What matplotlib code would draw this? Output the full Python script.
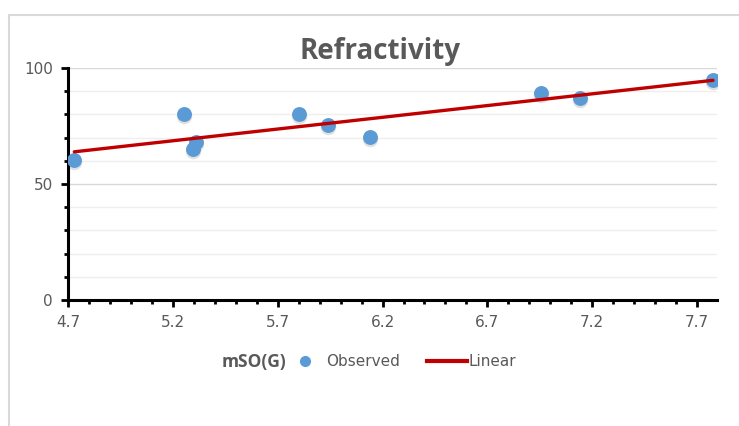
import matplotlib
matplotlib.use("Agg")
import matplotlib.pyplot as plt
import numpy as np
from matplotlib.patches import Rectangle
from matplotlib.lines import Line2D
from matplotlib.ticker import MultipleLocator

plt.rcParams['font.family'] = ['Liberation Sans Narrow', 'DejaVu Sans']

x_obs = [4.73, 5.253, 5.296, 5.31, 5.80, 5.94, 6.14, 6.956, 7.14, 7.776]
y_obs = [60.3, 80.2, 65.1, 68.1, 80.2, 75.4, 70.3, 89.2, 87.1, 94.8]
x_ticks = [4.7, 5.2, 5.7, 6.2, 6.7, 7.2, 7.7]
y_ticks = [0, 50, 100]

gray = '#595959'
fig = plt.figure(figsize=(7.39, 4.26), dpi=100)
fig.patches.append(Rectangle((9/739, -0.1), 1.0, 1 - 15/426 + 0.1, transform=fig.transFigure,
                             fill=False, edgecolor='#d9d9d9', linewidth=1.5))
ax = fig.add_axes([68/739, 1 - 300/426, (717 - 68)/739, (300 - 68)/426])

ax.set_xlim(4.7, 7.795)
ax.set_ylim(0, 100)
ax.set_xticks(x_ticks)
ax.set_xticklabels([str(v) for v in x_ticks])
ax.set_yticks(y_ticks)
ax.xaxis.set_minor_locator(MultipleLocator(0.1))
ax.yaxis.set_minor_locator(MultipleLocator(10))
ax.grid(True, which='major', axis='y', color='#d9d9d9', linewidth=1.0)
ax.grid(True, which='minor', axis='y', color='#efefef', linewidth=1.0)
ax.set_axisbelow(True)
for s in ['top', 'right']:
    ax.spines[s].set_visible(False)
for s in ['left', 'bottom']:
    ax.spines[s].set_linewidth(2.2)
    ax.spines[s].set_color('black')
ax.tick_params(which='major', length=5, width=2, color='black', labelcolor=gray, labelsize=11, pad=6)
ax.tick_params(which='minor', length=3, width=2, color='black')

ax.scatter(x_obs, [v - 0.9 for v in y_obs], s=125, color='#000000', alpha=0.12, zorder=2, linewidths=0)
ax.scatter(x_obs, y_obs, s=115, color='#5b9bd5', zorder=3, linewidths=0)

coef = np.polyfit(x_obs, y_obs, 1)
xl = np.array([min(x_obs), max(x_obs)])
ax.plot(xl, np.polyval(coef, xl), color='#c00000', linewidth=2.4, zorder=4, solid_capstyle='round')

fig.text(380/739, 1 - 59/426, 'Refractivity', fontsize=20, fontweight='bold', color=gray,
         ha='center', va='baseline', family=['Open Sans', 'DejaVu Sans'])

fig.text(222/739, 1 - 362/426, 'mSO(G)', fontsize=12.5, fontweight='bold', color=gray,
         va='center', ha='left', family=['Open Sans', 'DejaVu Sans'])
h1 = Line2D([], [], marker='o', linestyle='none', color='#5b9bd5', markersize=7)
leg1 = fig.legend([h1], ['Observed'], loc='center left', bbox_to_anchor=(296/739, 1 - 362/426),
                  frameon=False, fontsize=11, handletextpad=0.8, handlelength=1.2,
                  borderpad=0, borderaxespad=0)
for t in leg1.get_texts():
    t.set_color(gray)
h2 = Line2D([], [], color='#c00000', linewidth=3)
leg2 = fig.legend([h2], ['Linear'], loc='center left', bbox_to_anchor=(427/739, 1 - 362/426),
                  frameon=False, fontsize=11, handletextpad=0.1, handlelength=2.6,
                  borderpad=0, borderaxespad=0)
for t in leg2.get_texts():
    t.set_color(gray)

fig.savefig('out.png', dpi=100)
